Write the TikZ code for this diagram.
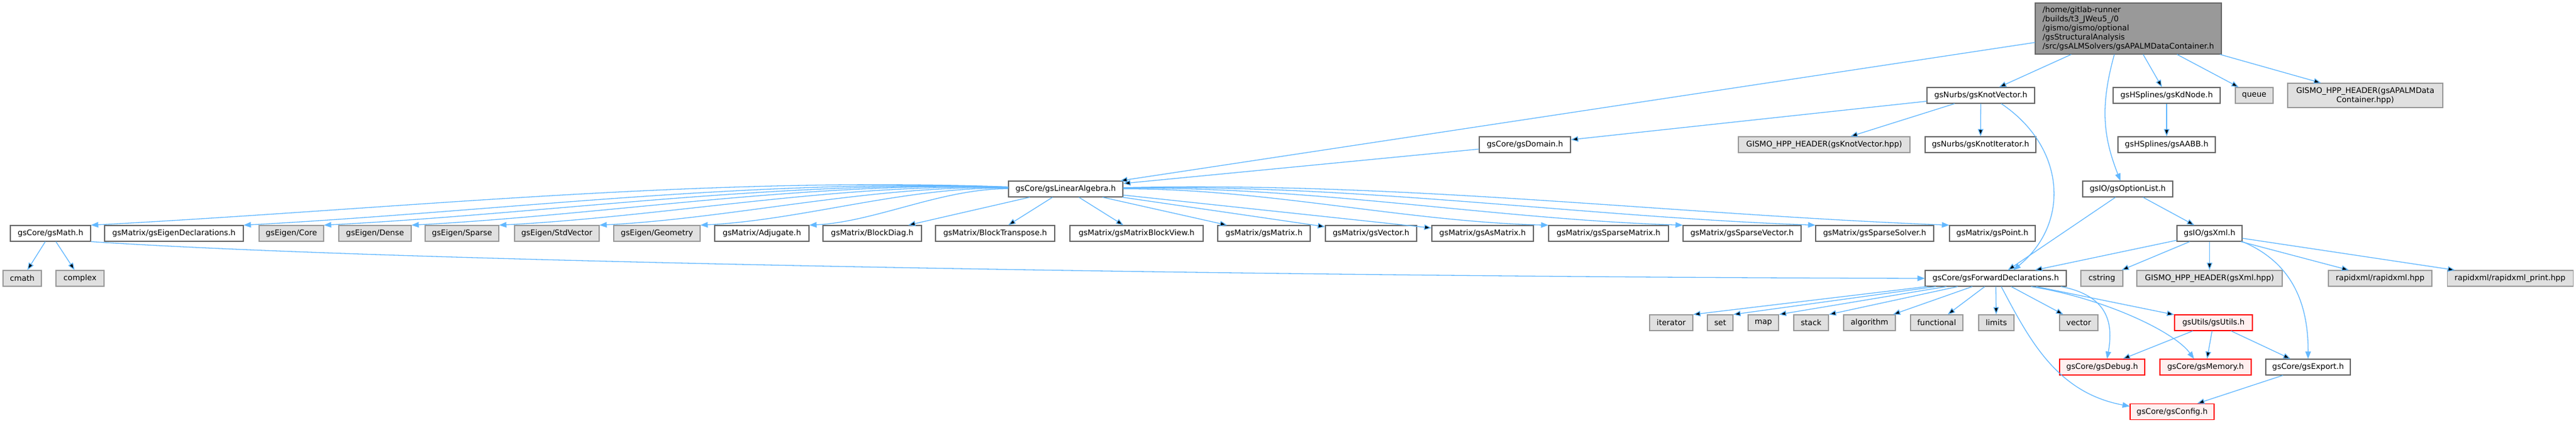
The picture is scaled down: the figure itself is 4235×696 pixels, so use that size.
\documentclass[tikz,border=0pt]{standalone}
\usepackage{fontspec}
\setmainfont{DejaVu Sans}
\usetikzlibrary{arrows.meta}
\definecolor{edgeblue}{HTML}{63B8FF}
\definecolor{boxgrey}{HTML}{666666}
\definecolor{sysgrey}{HTML}{999999}
\definecolor{sysfill}{HTML}{E0E0E0}
\definecolor{truncfill}{HTML}{FFF0F0}
\tikzset{
->, % every connector is an include
>={Triangle[length=12pt,width=9pt]}, % filled heads like the ones doxygen draws
every node/.style={font=\fontsize{12.8}{15}\selectfont, inner sep=0pt, minimum height=26pt}, % one line of text per box
file/.style={draw=boxgrey, fill=white, line width=1.1pt, minimum width=#1}, % a header of the library
sys/.style={draw=sysgrey, fill=sysfill, line width=1.1pt, minimum width=#1}, % a system or outside header
trunc/.style={draw=red, fill=truncfill, line width=1.1pt, minimum width=#1}, % a header whose graph is cut
dep/.style={draw=edgeblue, line width=1.3pt}, % the look of the include arrows
}

\begin{document}
\begin{tikzpicture}[x=1pt, y=1pt]
    \useasboundingbox (0,0) rectangle (4235,696);

    \node[file=306pt, fill=sysgrey, minimum height=84pt, align=left] (main) at (3499,649) {/home/gitlab-runner\\/builds/t3\_JWeu5\_/0\\/gismo/gismo/optional\\/gsStructuralAnalysis\\/src/gsALMSolvers/gsAPALMDataContainer.h};

    \node[file=177pt] (knotvec) at (3256.5,539) {gsNurbs/gsKnotVector.h};
    \node[file=176pt] (kdnode) at (3562,539) {gsHSplines/gsKdNode.h};
    \node[sys=62pt] (queue) at (3706,539) {queue};
    \node[sys=255pt, minimum height=40pt, align=center] (apalmhpp) at (3888.5,539) {GISMO\_HPP\_HEADER(gsAPALMData\\Container.hpp)};

    \node[file=150pt] (domain) at (2507,458) {gsCore/gsDomain.h};
    \node[sys=282pt] (knothpp) at (2999,458) {GISMO\_HPP\_HEADER(gsKnotVector.hpp)};
    \node[file=182pt] (knotit) at (3256,458) {gsNurbs/gsKnotIterator.h};
    \node[file=160pt] (aabb) at (3562,458) {gsHSplines/gsAABB.h};

    \node[file=188pt] (linalg) at (1752,385) {gsCore/gsLinearAlgebra.h};
    \node[file=148pt] (optlist) at (3498,385) {gsIO/gsOptionList.h};

    \node[file=132pt] (math) at (83,312) {gsCore/gsMath.h};
    \node[file=228pt] (eigdecl) at (286,312) {gsMatrix/gsEigenDeclarations.h};
    \node[sys=106pt] (ecore) at (479,312) {gsEigen/Core};
    \node[sys=119pt] (edense) at (616.5,312) {gsEigen/Dense};
    \node[sys=121pt] (esparse) at (759.5,312) {gsEigen/Sparse};
    \node[sys=139pt] (estdvec) at (915.5,312) {gsEigen/StdVector};
    \node[sys=142pt] (egeom) at (1080,312) {gsEigen/Geometry};
    \node[file=155pt] (adjugate) at (1252.5,312) {gsMatrix/Adjugate.h};
    \node[file=162pt] (blockdiag) at (1434,312) {gsMatrix/BlockDiag.h};
    \node[file=196pt] (blocktrans) at (1636,312) {gsMatrix/BlockTranspose.h};
    \node[file=219pt] (blockview) at (1868.5,312) {gsMatrix/gsMatrixBlockView.h};
    \node[file=152pt] (matrix) at (2078,312) {gsMatrix/gsMatrix.h};
    \node[file=150pt] (vector) at (2254,312) {gsMatrix/gsVector.h};
    \node[file=167pt] (asmatrix) at (2437.5,312) {gsMatrix/gsAsMatrix.h};
    \node[file=197pt] (spmatrix) at (2644.5,312) {gsMatrix/gsSparseMatrix.h};
    \node[file=194pt] (spvector) at (2864,312) {gsMatrix/gsSparseVector.h};
    \node[file=194pt] (spsolver) at (3082,312) {gsMatrix/gsSparseSolver.h};
    \node[file=141pt] (point) at (3275.5,312) {gsMatrix/gsPoint.h};
    \node[file=107pt] (xml) at (3632.5,312) {gsIO/gsXml.h};

    \node[sys=63pt] (cmath) at (36.5,238) {cmath};
    \node[sys=79pt] (complex) at (131.5,238) {complex};
    \node[file=232pt] (fwd) at (3281,238) {gsCore/gsForwardDeclarations.h};
    \node[sys=69pt] (cstring) at (3455.5,238) {cstring};
    \node[sys=239pt] (xmlhpp) at (3632.5,238) {GISMO\_HPP\_HEADER(gsXml.hpp)};
    \node[sys=170pt] (rapidxml) at (3913,238) {rapidxml/rapidxml.hpp};
    \node[sys=207pt] (rapidprint) at (4126.5,238) {rapidxml/rapidxml\_print.hpp};

    \node[sys=71pt] (iterator) at (2747.5,165) {iterator};
    \node[sys=42pt] (set) at (2828,165) {set};
    \node[sys=50pt] (map) at (2899,165) {map};
    \node[sys=57pt] (stack) at (2977.5,165) {stack};
    \node[sys=85pt] (algorithm) at (3073.5,165) {algorithm};
    \node[sys=86pt] (functional) at (3184,165) {functional};
    \node[sys=58pt] (limits) at (3282,165) {limits};
    \node[sys=63pt] (stdvector) at (3417.5,165) {vector};
    \node[trunc=128pt] (utils) at (3639,165) {gsUtils/gsUtils.h};

    \node[trunc=140pt] (debug) at (3456,92) {gsCore/gsDebug.h};
    \node[trunc=150pt] (memory) at (3626,92) {gsCore/gsMemory.h};
    \node[file=139pt] (export) at (3794.5,92) {gsCore/gsExport.h};

    \node[trunc=138pt] (config) at (3571,18.5) {gsCore/gsConfig.h};

    \draw[dep]
    (main) edge (linalg)
    (main) edge (knotvec)
    (main) edge (kdnode)
    (main) edge (queue)
    (main) edge (apalmhpp);
    \draw[dep] ([xshift=-23pt]main.south) .. controls (3452,520) and (3458,470) .. ([xshift=-12pt]optlist.north);

    \draw[dep]
    (knotvec) edge (domain)
    (knotvec) edge (knothpp)
    (knotvec) edge (knotit)
    (domain) edge (linalg)
    (kdnode) edge (aabb);
    \draw[dep] ([xshift=33.5pt]knotvec.south) .. controls (3395,455) and (3405,330) .. ([xshift=29pt]fwd.north);

    \draw[dep] (linalg) .. controls (1155,407) and (652,352) .. (math.north east);
    \draw[dep] (linalg) .. controls (1239,403) and (819,348) .. (eigdecl.north east);
    \draw[dep] (linalg) .. controls (1283,400) and (907,345) .. (ecore.north east);
    \draw[dep] (linalg) .. controls (1331,398) and (1003,343) .. (edense.north east);
    \draw[dep] (linalg) .. controls (1379,395) and (1099,340) .. (esparse.north east);
    \draw[dep] (linalg) .. controls (1434,392) and (1209,337) .. (estdvec.north east);
    \draw[dep] (linalg) .. controls (1489,389) and (1320,334) .. (egeom.north east);
    \draw[dep] (linalg) .. controls (1549,386) and (1439,331) .. (adjugate.north east);
    \draw[dep]
    (linalg) edge (blockdiag)
    (linalg) edge (blocktrans)
    (linalg) edge (blockview)
    (linalg) edge (matrix)
    (linalg) edge (vector)
    (linalg) edge (asmatrix);
    \draw[dep] (linalg) .. controls (2079,386) and (2313,331) .. (spmatrix.north west);
    \draw[dep] (linalg) .. controls (2153,390) and (2460,335) .. (spvector.north west);
    \draw[dep] (linalg) .. controls (2226,394) and (2605,339) .. (spsolver.north west);
    \draw[dep] (linalg) .. controls (2299,398) and (2752,343) .. (point.north west);

    \draw[dep]
    (optlist) edge (fwd)
    (optlist) edge (xml)
    (xml) edge (fwd)
    (xml) edge (cstring)
    (xml) edge (xmlhpp)
    (xml) edge (rapidxml)
    (xml) edge (rapidprint);
    \draw[dep] (xml.south east) .. controls (3766,265) and (3795,200) .. (export.north);

    \draw[dep]
    (math) edge (cmath)
    (math) edge (complex);
    \draw[dep] (math.south east) .. controls (700,262) and (2200,240) .. (fwd.west);

    \draw[dep]
    (fwd) edge (iterator.north east)
    (fwd) edge (set.north east)
    (fwd) edge (map.north east)
    (fwd) edge (stack.north east)
    (fwd) edge (algorithm)
    (fwd) edge (functional)
    (fwd) edge (limits)
    (fwd) edge (stdvector)
    (fwd) edge (utils);
    \draw[dep] ([xshift=58pt]fwd.south) .. controls (3460,205) and (3575,150) .. ([xshift=-19pt]memory.north);
    \draw[dep] ([xshift=107pt]fwd.south) .. controls (3465,210) and (3475,165) .. ([xshift=8pt]debug.north);
    \draw[dep] ([xshift=9pt]fwd.south) .. controls (3335,140) and (3380,50) .. ([yshift=9pt]config.west);

    \draw[dep]
    (utils) edge (debug)
    (utils) edge (memory)
    (utils) edge (export)
    (export) edge (config);

\end{tikzpicture}
\end{document}
